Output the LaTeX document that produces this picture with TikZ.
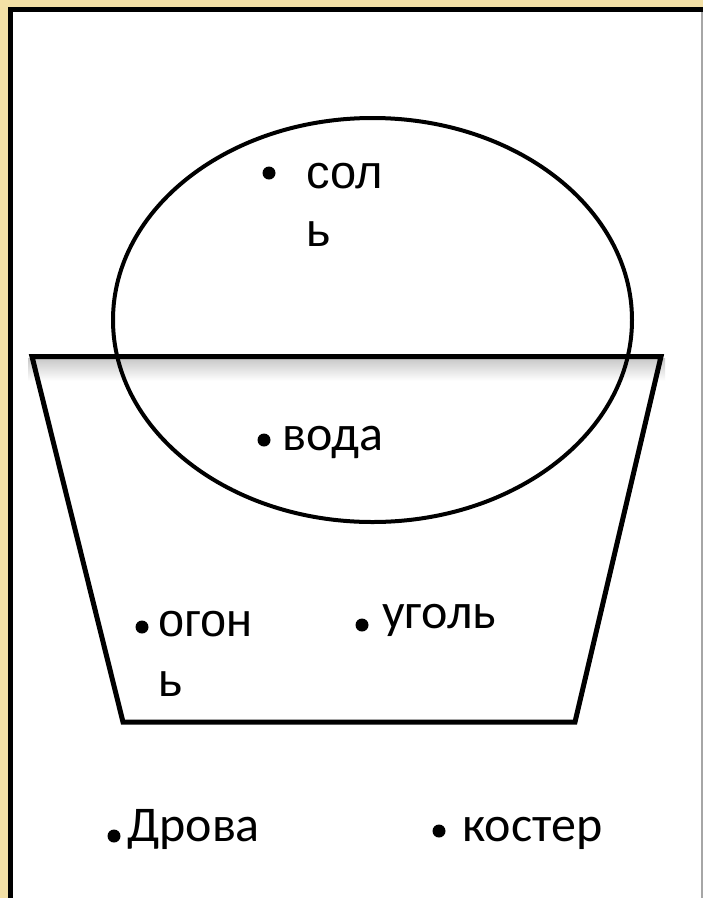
\documentclass[tikz,border=0pt]{standalone}
\usepackage{fontspec}
\setmainfont{Carlito}
\newfontfamily\arialfont{Liberation Sans}
\definecolor{goldBg}{RGB}{243,224,166}

\tikzstyle{myWord} = [anchor=base west, inner sep=0pt,
    font=\fontsize{50}{60}\selectfont]
\tikzstyle{myArial} = [anchor=base west, inner sep=0pt,
    font=\arialfont\fontsize{47}{60}\selectfont]
\tikzstyle{myDot} = [circle, fill=black, inner sep=0pt, minimum size=13pt]

\begin{document}
\begin{tikzpicture}[x=1pt,y=-1pt]

\useasboundingbox (0,0) rectangle (703,898);
\fill[white] (0,0) rectangle (703,898);
\fill[goldBg] (0,0) rectangle (703,8);
\fill[goldBg] (0,0) rectangle (8,898);
\draw[line width=5pt] (10,898) -- (10,9.5) -- (703,9.5);
\draw[black!35, line width=1.2pt] (702,12) -- (702,898);

\shade[top color=black!22, bottom color=white] (28,358) rectangle (665,381);
\draw[line width=5pt] (32,356.5) -- (661,356.5) -- (575,722) -- (123,722) -- cycle;
\draw[line width=4pt] (372.5,320) ellipse [x radius=259.5pt, y radius=202pt];

\node[myDot] (solDot) at (269,173) {};
\node[myArial] (sol) at (306,188) {сол};
\node[myArial] (solEnd) at (306,246) {ь};
\node[myDot] (vodaDot) at (264,440) {};
\node[myWord] (voda) at (282,450) {вода};
\node[myDot] (ogonDot) at (142,627) {};
\node[myArial] (ogon) at (158,636) {огон};
\node[myArial] (ogonEnd) at (158,696) {ь};
\node[myDot] (ugolDot) at (362,625) {};
\node[myWord] (ugol) at (382,628) {уголь};
\node[myDot] (drovaDot) at (114,836) {};
\node[myWord] (drova) at (127,841) {Дрова};
\node[myDot] (kosterDot) at (439,831) {};
\node[myWord] (koster) at (462,841) {костер};
\end{tikzpicture}
\end{document}
